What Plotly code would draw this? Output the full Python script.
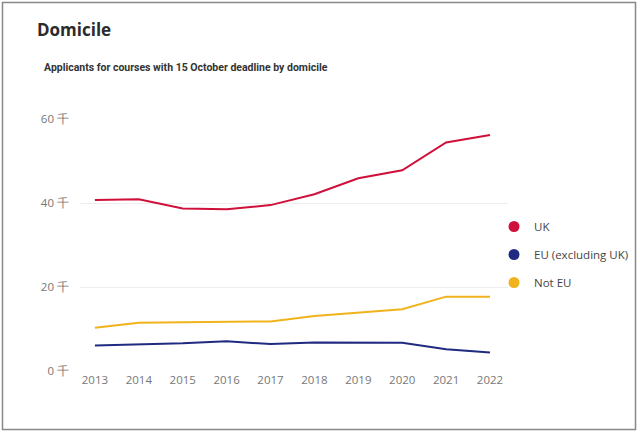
import plotly.graph_objects as go

years = [2013, 2014, 2015, 2016, 2017, 2018, 2019, 2020, 2021, 2022]
uk = [40.7, 40.9, 38.7, 38.5, 39.5, 42.1, 45.9, 47.8, 54.4, 56.2]
eu = [6.1, 6.4, 6.6, 7.1, 6.4, 6.8, 6.8, 6.7, 5.2, 4.4]
not_eu = [10.3, 11.5, 11.6, 11.7, 11.8, 13.1, 13.9, 14.7, 17.7, 17.7]
series_names = ["UK", "EU (excluding UK)", "Not EU"]
series_values = [uk, eu, not_eu]
colors = ["#d0103a", "#1f2a80", "#f1b31c"]
y_ticks = [0, 20, 40, 60]
y_ticktext = ["0 千", "20 千", "40 千", "60 千"]

fig = go.Figure()
for name, vals, col in zip(series_names, series_values, colors):
    fig.add_trace(go.Scatter(x=years, y=vals, mode="lines", name=name,
                             line=dict(color=col, width=2), showlegend=False,
                             hoverinfo="x+y+name"))
for i, (name, col) in enumerate(zip(series_names, colors)):
    fig.add_trace(go.Scatter(x=[None], y=[None], mode="markers", name=name,
                             marker=dict(color=col, size=11), legendgroup=f"g{i}",
                             showlegend=True))

fig.update_layout(
    width=640, height=434,
    margin=dict(l=80, r=132, t=119, b=63, autoexpand=False),
    paper_bgcolor="white", plot_bgcolor="white",
    font=dict(family="Open Sans, sans-serif", color="#555555"),
    xaxis=dict(range=[2012.66, 2022.41], tickmode="array", tickvals=years,
               ticktext=[str(y) for y in years], showgrid=False, zeroline=False,
               showline=False, tickfont=dict(size=11.5, color="#777777"), ticks=""),
    yaxis=dict(range=[0, 60], tickmode="array", tickvals=y_ticks, ticktext=y_ticktext,
               showgrid=True, gridcolor="#eeeeee", gridwidth=1, zeroline=False,
               tickfont=dict(size=11.5, color="#777777"), ticklabelstandoff=10),
    legend=dict(xref="container", yref="container", x=494 / 640, xanchor="left",
                y=1 - 212 / 434, yanchor="top", tracegroupgap=9,
                font=dict(size=11.5, color="#444444"), itemwidth=30,
                bgcolor="rgba(0,0,0,0)"),
    annotations=[
        dict(text="<b>Domicile</b>", xref="paper", yref="paper", x=-0.105, y=(371 - 30) / 252,
             xanchor="left", yanchor="middle", showarrow=False,
             font=dict(size=17, color="#2b2b2b", family="Open Sans, sans-serif")),
        dict(text="<b>Applicants for courses with 15 October deadline by domicile</b>",
             xref="paper", yref="paper", x=(42 - 80) / 428, y=(371 - 67) / 252,
             xanchor="left", yanchor="middle",
             showarrow=False, font=dict(size=10.5, color="#333333", family="Roboto, sans-serif")),
    ],
    shapes=[dict(type="rect", xref="paper", yref="paper",
                 x0=(2.5 - 80) / 428, x1=(635.5 - 80) / 428,
                 y0=(371 - 429.5) / 252, y1=(371 - 2.5) / 252,
                 line=dict(color="#888888", width=1.5), fillcolor="rgba(0,0,0,0)")],
)

fig.write_html("out.html", config={"displayModeBar": False},
               post_script="document.body.style.margin='0';document.body.style.overflow='hidden';")
